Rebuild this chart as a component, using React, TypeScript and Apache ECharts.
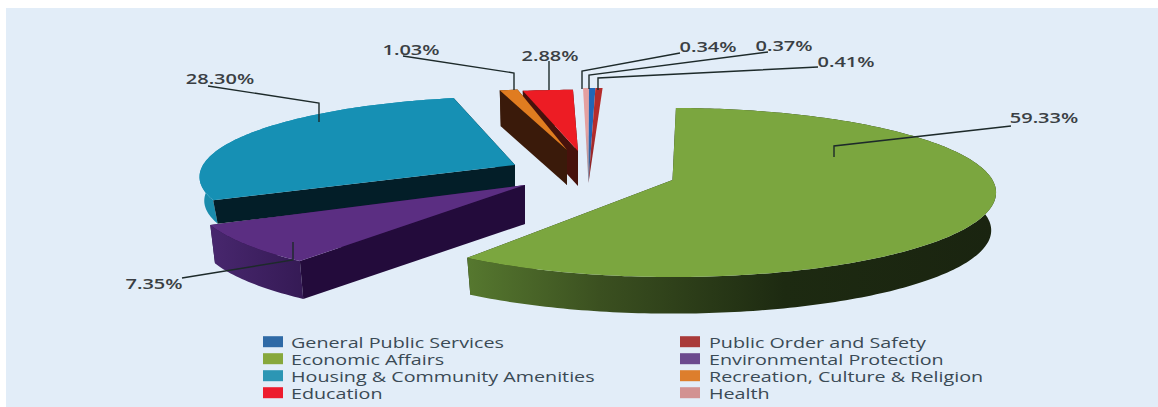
import React, { useEffect, useRef } from "react";
import * as echarts from "echarts";

// Budget shares, in the order the pie is laid out clockwise from the top.
const categories = [
  "Economic Affairs",
  "Environmental Protection",
  "Housing & Community Amenities",
  "Recreation, Culture & Religion",
  "Education",
  "Health",
  "General Public Services",
  "Public Order and Safety",
];
const shares = [59.33, 7.35, 28.3, 1.03, 2.88, 0.34, 0.37, 0.41];

const leftLegend = ["General Public Services", "Economic Affairs", "Housing & Community Amenities", "Education"];
const rightLegend = ["Public Order and Safety", "Environmental Protection", "Recreation, Culture & Religion", "Health"];
const legendColors = ["#87a83c", "#6b4a8f", "#2c96b4", "#dd7e2c", "#ed1c2e", "#d29292", "#2f6aa6", "#a93a3a"];

// The hairline wedges darken towards their tips.
const fade = (from: string, to: string) => ({
  type: "linear", x: 0, y: 0, x2: 0, y2: 1,
  colorStops: [{ offset: 0, color: from }, { offset: 0.45, color: from }, { offset: 1, color: to }],
});

const topColors: any[] = [
  "#7ba63f", "#5b2e82", "#1690b4", "#e07c20", "#ed1c24",
  fade("#e4a0a0", "#9a8c92"), fade("#2266b8", "#4a5a7e"), fade("#b52c2c", "#7a2024"),
];
const cutColors = ["#1c2410", "#230b3b", "#031e28", "#3a1a0a", "#47120c", "#9a8c92", "#4a5a7e", "#7a2024"];
const arcColors: any[] = [
  {
    type: "linear", x: 0, y: 0, x2: 1, y2: 0,
    colorStops: [
      { offset: 0, color: "#56782f" },
      { offset: 0.25, color: "#3b5020" },
      { offset: 0.6, color: "#1d2a11" },
      { offset: 1, color: "#1a2410" },
    ],
  },
  { type: "linear", x: 0, y: 0, x2: 1, y2: 0, colorStops: [{ offset: 0, color: "#48276e" }, { offset: 1, color: "#351a55" }] },
  "#1a8cac", "#3a1a0a", "#47120c", "#9a8c92", "#4a5a7e", "#7a2024",
];

// Pie projection: a tilted disc seen in perspective.
const CENTER = { x: 672.5, y: 180 };
const RADIUS_X = 320;
const RADIUS_Y = 82.7;
const PERSPECTIVE = 0.148;
const FIRST_ANGLE = 0.7;
const WALL_TAPER = 0.985;

// Each wedge is pulled away by hand: offset of its tip, angular nudge, size factors, wall height.
const explode = [
  { dx: 0, dy: 0, turn: 0, stretch: 1, squash: 1, depth: 38 },
  { dx: -147.5, dy: 5, turn: 3, stretch: 1.025, squash: 1.02, depth: 39 },
  { dx: -157.5, dy: -15, turn: 4.4, stretch: 0.975, squash: 0.95, depth: 24 },
  { dx: -105.5, dy: -30, turn: 3.5, stretch: 1, squash: 0.85, depth: 35 },
  { dx: -94.5, dy: -29, turn: 2.3, stretch: 1, squash: 0.85, depth: 35 },
  { dx: -84, dy: 3, turn: 2.2, stretch: 1, squash: 1.32, depth: 0 },
  { dx: -84, dy: 3, turn: 2.2, stretch: 1, squash: 1.32, depth: 0 },
  { dx: -84, dy: 3, turn: 2.2, stretch: 1, squash: 1.32, depth: 0 },
];

// Value callouts: text centre, then the leader line from the text to its elbow and into the slice.
const callouts = [
  { text: [1044, 117], line: [[1011, 126], [834, 146], [834, 157]] },
  { text: [154, 283], line: [[182, 278], [293, 260], [293, 242]] },
  { text: [220, 78], line: [[208, 86], [319, 103], [319, 122]] },
  { text: [411, 49], line: [[403, 56], [514, 73], [514, 90]] },
  { text: [550, 55], line: [[549, 61], [549, 90]] },
  { text: [708, 46], line: [[680, 53], [582, 71], [582, 89]] },
  { text: [784, 45], line: [[768, 52], [589, 75], [589, 89]] },
  { text: [846, 61], line: [[818, 67], [598, 78], [598, 90]] },
];

// Painted far to near so that nearer walls cover the ones behind them.
const paintOrder = [5, 6, 7, 4, 3, 2, 1, 0];

const total = shares.reduce((a, b) => a + b, 0);

function sliceAngles(index: number) {
  const before = shares.slice(0, index).reduce((a, b) => a + b, 0);
  const sweep = (shares[index] / total) * 360;
  const start = FIRST_ANGLE + (before / total) * 360 + explode[index].turn;
  return { start, end: start + sweep };
}

function project(index: number, deg: number, lower: boolean): number[] {
  const e = explode[index];
  const a = (deg * Math.PI) / 180;
  const u = Math.sin(a);
  const v = -Math.cos(a);
  const w = 1 - PERSPECTIVE * v;
  const taper = lower ? WALL_TAPER : 1;
  return [
    CENTER.x + e.dx + ((RADIUS_X * u * e.stretch) / w) * taper,
    CENTER.y + e.dy + ((RADIUS_Y * v * e.squash) / w) * taper + (lower ? e.depth : 0),
  ];
}

function tip(index: number, lower: boolean): number[] {
  const e = explode[index];
  return [CENTER.x + e.dx, CENTER.y + e.dy + (lower ? e.depth : 0)];
}

function arc(index: number, lower: boolean): number[][] {
  const { start, end } = sliceAngles(index);
  const steps = Math.max(4, Math.ceil(end - start));
  const pts: number[][] = [];
  for (let i = 0; i <= steps; i++) pts.push(project(index, start + ((end - start) * i) / steps, lower));
  return pts;
}

function renderSlice(index: number) {
  return (_params: any, api: any) => {
    const value = api.value(0) as number;
    const upper = arc(index, false);
    const lower = arc(index, true);
    const poly = (points: number[][], fill: any) => ({
      type: "polygon",
      shape: { points },
      style: { fill, stroke: null },
    });
    const c = callouts[index];
    const walls =
      explode[index].depth > 0
        ? [
            poly([tip(index, false), upper[upper.length - 1], lower[lower.length - 1], tip(index, true)], cutColors[index]),
            poly([...upper, ...lower.slice().reverse()], arcColors[index]),
            poly([tip(index, false), upper[0], lower[0], tip(index, true)], cutColors[index]),
          ]
        : [];
    return {
      type: "group",
      children: [
        ...walls,
        poly([tip(index, false), ...upper], topColors[index]),
        {
          type: "polyline",
          shape: { points: c.line },
          style: { stroke: "#1d2a2a", lineWidth: 1.4, fill: null },
        },
        {
          type: "text",
          x: c.text[0],
          y: c.text[1],
          scaleX: 1.38,
          style: {
            text: `${value.toFixed(2)}%`,
            font: '600 14.5px "Open Sans"',
            fill: "#3a3f44",
            align: "center",
            verticalAlign: "middle",
          },
        },
      ],
    };
  };
}

// Two-column key with wide-set lettering, built from the same colours as the slices' key entries.
function legendColumn(names: string[], swatchX: number, textX: number) {
  const rowY = [341.7, 358.7, 375.7, 392.7];
  const items: any[] = [];
  names.forEach((name, row) => {
    items.push({
      type: "rect",
      silent: true,
      shape: { x: swatchX, y: rowY[row] - 5.5, width: 20, height: 11 },
      style: { fill: legendColors[categories.indexOf(name)] },
    });
    items.push({
      type: "text",
      silent: true,
      x: textX,
      y: rowY[row],
      scaleX: 1.315,
      style: {
        text: name,
        font: '15px "Open Sans"',
        fill: "#3a4a55",
        align: "left",
        verticalAlign: "middle",
      },
    });
  });
  return items;
}

function buildOption(): any {
  return {
    animation: false,
    backgroundColor: "#ffffff",
    graphic: [
      {
        type: "rect",
        z: -10,
        silent: true,
        shape: { x: 6, y: 8, width: 1152, height: 399 },
        style: { fill: "#e2edf8" },
      },
      ...legendColumn(leftLegend, 263, 291),
      ...legendColumn(rightLegend, 680, 709),
    ],
    series: paintOrder.map((index, order) => ({
      type: "custom",
      name: categories[index],
      coordinateSystem: "none",
      silent: true,
      z: 2 + order,
      data: [[shares[index]]],
      renderItem: renderSlice(index),
    })),
  };
}

export default function App() {
  const ref = useRef<HTMLDivElement>(null);
  useEffect(() => {
    const chart = echarts.init(ref.current!, undefined, { renderer: "svg" });
    chart.setOption(buildOption());
    return () => chart.dispose();
  }, []);
  return <div ref={ref} style={{ position: "absolute", left: 0, top: 0, width: 1158, height: 407 }} />;
}
